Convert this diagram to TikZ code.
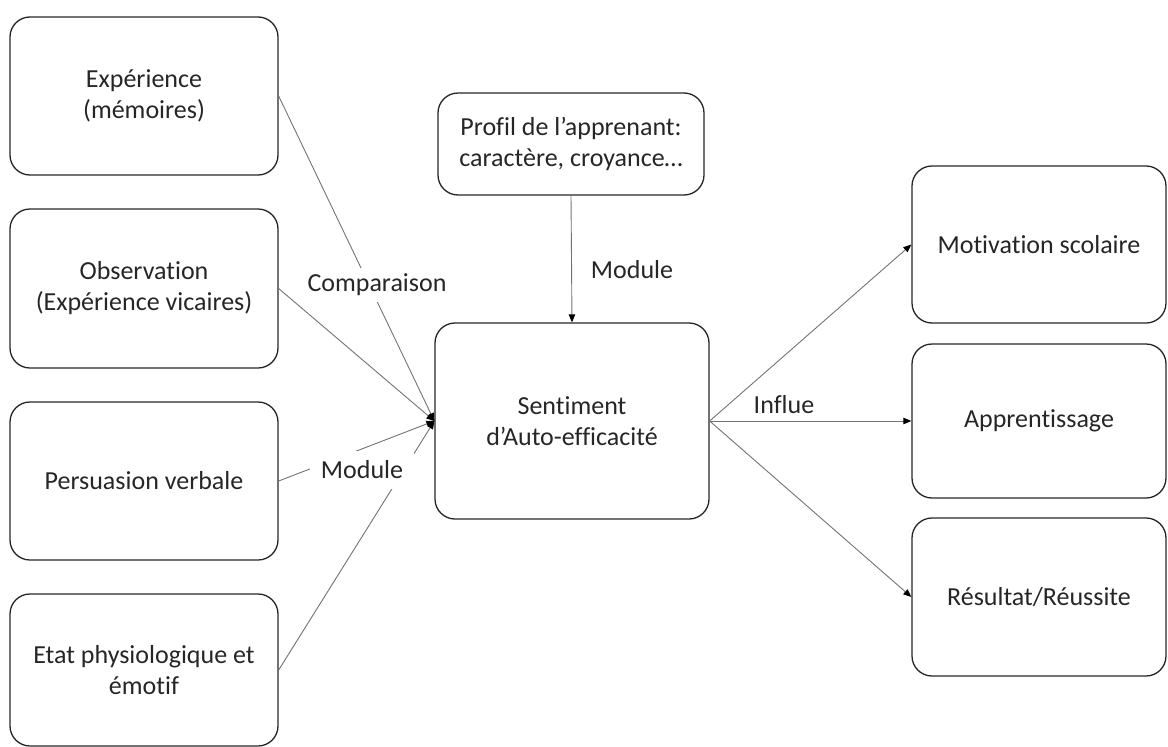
\documentclass[tikz,border=0pt]{standalone}
\usepackage{fontspec}
\setmainfont{Carlito}[Ligatures={NoCommon}]
\usetikzlibrary{arrows.meta, positioning}
\tikzstyle{box} = [draw=black!85, line width=1.3pt, rounded corners=20pt, align=center, text=black!85, font=\fontsize{26}{31}\selectfont]
\tikzstyle{link} = [black!55, line width=0.9pt]
\tikzstyle{arrow} = [link, -{Triangle[length=8pt,width=6.5pt,color=black]}]
\tikzstyle{lbl} = [text=black!85, font=\fontsize{26}{31}\selectfont]

\begin{document}
\begin{tikzpicture}[x=1pt, y=-1pt]
    \useasboundingbox (0,0) rectangle (1168,747);

    % Sources (left column)
    \node[box, minimum width=268pt, minimum height=158pt] (exp) at (144,96) {Expérience\\(mémoires)};
    \node[box, minimum width=268pt, minimum height=159pt] (obs) at (144,288.5) {Observation\\(Expérience vicaires)};
    \node[box, minimum width=268pt, minimum height=158pt] (pers) at (144,481) {Persuasion verbale};
    \node[box, minimum width=268pt, minimum height=152pt] (etat) at (144,670) {Etat physiologique et\\émotif};

    % Profile and central box
    \node[box, minimum width=266pt, minimum height=102pt] (profil) at (571,144) {Profil de l’apprenant:\\caractère, croyance…};
    \node[box, minimum width=274pt, minimum height=196pt] (sae) at (572,421) {Sentiment\\d’Auto-efficacité};

    % Effects (right column)
    \node[box, minimum width=254pt, minimum height=157pt] (motiv) at (1039,244.5) {Motivation scolaire};
    \node[box, minimum width=254pt, minimum height=154pt] (appr) at (1039,421) {Apprentissage};
    \node[box, minimum width=254pt, minimum height=158pt] (resul) at (1039,597) {Résultat/Réussite};

    % Connectors
    \draw[arrow] (exp.east) -- (sae.west);
    \draw[arrow] (obs.east) -- (sae.west);
    \draw[arrow] (pers.east) -- (sae.west);
    \draw[arrow] (etat.east) -- (sae.west);
    \draw[arrow] (profil.south) -- (sae.north);
    \draw[arrow] (sae.east) -- (motiv.west);
    \draw[arrow] (sae.east) -- (appr.west);
    \draw[arrow] (sae.east) -- (resul.west);

    % Labels
    \node[lbl, fill=white, inner xsep=1pt, inner ysep=6pt] (cmp) at (377,285) {Comparaison};
    \node[lbl, fill=white, inner xsep=11pt, inner ysep=10pt] (modl) at (362,470) {Module};
    \node[lbl] (modp) at (632,270) {Module};
    \node[lbl] (infl) at (784,405) {Influe};
\end{tikzpicture}
\end{document}
